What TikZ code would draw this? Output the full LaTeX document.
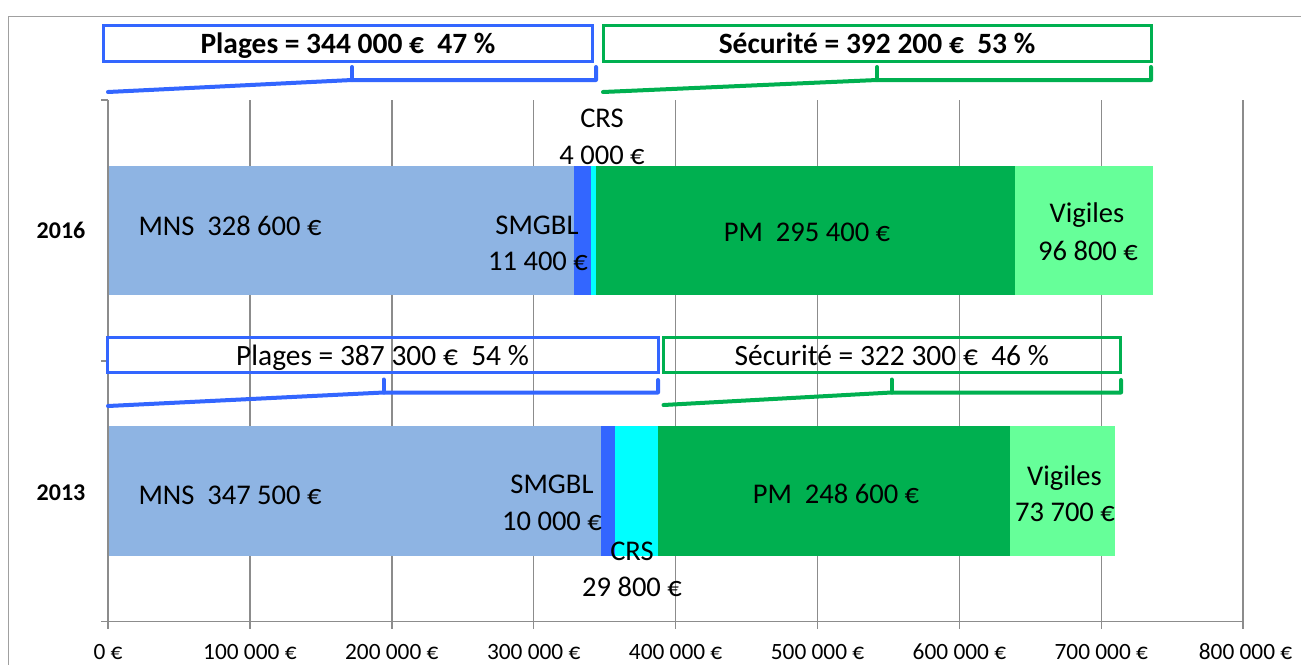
\documentclass[tikz,border=0pt]{standalone}
\usepackage{fontspec}
\setmainfont{Carlito}
\definecolor{cMNS}{HTML}{8EB4E3}
\definecolor{cSMG}{HTML}{3366FF}
\definecolor{cCRS}{HTML}{00FFFF}
\definecolor{cPM}{HTML}{00B050}
\definecolor{cVIG}{HTML}{66FF99}
\definecolor{cBlue}{HTML}{3366FF}
\definecolor{cGreen}{HTML}{00B050}
\definecolor{cGrid}{HTML}{8C8C8C}
\definecolor{cFrame}{HTML}{A0A0A0}
\tikzset{
  gridline/.style={draw=cGrid, line width=1.1pt},
  frameline/.style={draw=cFrame, line width=1.1pt},
  dl/.style={font=\fontsize{21.4}{27}\selectfont, inner sep=0pt, anchor=base},
  axl/.style={font=\fontsize{17.5}{21}\selectfont, inner sep=0pt, anchor=base, text depth=0pt},
  yr/.style={font=\fontsize{18}{22}\selectfont\bfseries, inner sep=0pt, anchor=base},
  cbox/.style={line width=2.25pt, inner sep=0pt, text height=16.2pt, text depth=0pt},
  cboxb/.style={cbox, font=\fontsize{22.1}{27}\selectfont\bfseries},
  cboxr/.style={cbox, font=\fontsize{22.1}{27}\selectfont},
  brk/.style={line width=3pt, line cap=round, line join=round}
}
\begin{document}
\begin{tikzpicture}[x=0.75pt,y=-0.75pt]
\useasboundingbox (0,0) rectangle (1301,664);
\clip (0,0) rectangle (1301,664);
\fill[white] (0,0) rectangle (1301,664);
% chart frame
\draw[frameline] (8.5,16.5) rectangle (1330,700);
% gridlines
\foreach \k in {1,...,8} \draw[gridline] ({108+141.9*\k},100) -- ({108+141.9*\k},629);
% bars 2016
\fill[cMNS] (108,166) rectangle (574.3,295);
\fill[cSMG] (574.3,166) rectangle (590.5,295);
\fill[cCRS] (590.5,166) rectangle (596.1,295);
\fill[cPM] (596.1,166) rectangle (1015.3,295);
\fill[cVIG] (1015.3,166) rectangle (1152.7,295);
% bars 2013
\fill[cMNS] (108,426) rectangle (601.1,555.5);
\fill[cSMG] (601.1,426) rectangle (615.3,555.5);
\fill[cCRS] (615.3,426) rectangle (657.6,555.5);
\fill[cPM] (657.6,426) rectangle (1010.3,555.5);
\fill[cVIG] (1010.3,426) rectangle (1114.9,555.5);
% axes
\draw[gridline] (108,100) -- (108,629);
\draw[gridline] (101,621.5) -- (1243.2,621.5);
\foreach \y in {100,361,621.5} \draw[gridline] (101,\y) -- (108,\y);
% axis labels
\node[axl] (ax0) at (108,659.5) {0 €};
\node[axl] (ax1) at (249.9,659.5) {100 000 €};
\node[axl] (ax2) at (391.8,659.5) {200 000 €};
\node[axl] (ax3) at (533.7,659.5) {300 000 €};
\node[axl] (ax4) at (675.6,659.5) {400 000 €};
\node[axl] (ax5) at (817.5,659.5) {500 000 €};
\node[axl] (ax6) at (959.4,659.5) {600 000 €};
\node[axl] (ax7) at (1101.3,659.5) {700 000 €};
\node[axl] (ax8) at (1245.5,659.5) {800 000 €};
% year labels
\node[yr] (y16) at (61,238) {2016};
\node[yr] (y13) at (61,500) {2013};
% data labels 2016
\node[dl] (mns16) at (230,235) {MNS\ \ 328 600 €};
\node[dl] (smg16a) at (537,234) {SMGBL};
\node[dl] (smg16b) at (538,270) {11 400 €};
\node[dl] (crs16a) at (602,127.5) {CRS};
\node[dl] (crs16b) at (602,164) {4 000 €};
\node[dl] (pm16) at (807,241) {PM\ \ 295 400 €};
\node[dl] (vig16a) at (1087,222.5) {Vigiles};
\node[dl] (vig16b) at (1088,260) {96 800 €};
% data labels 2013
\node[dl] (mns13) at (230,504) {MNS\ \ 347 500 €};
\node[dl] (smg13a) at (552,493.3) {SMGBL};
\node[dl] (smg13b) at (552,530.7) {10 000 €};
\node[dl] (crs13a) at (632,560) {CRS};
\node[dl] (crs13b) at (632,596.7) {29 800 €};
\node[dl] (pm13) at (836,503) {PM\ \ 248 600 €};
\node[dl] (vig13a) at (1064.5,485) {Vigiles};
\node[dl] (vig13b) at (1065,521.7) {73 700 €};
% callout boxes
\node[cboxb, draw=cBlue, minimum width=366.75pt, minimum height=27pt] (box16p) at (348,43) {Plages = 344 000 €\ \ 47 \%};
\node[cboxb, draw=cGreen, minimum width=411pt, minimum height=27pt] (box16s) at (877,43) {Sécurité = 392 200 €\ \ 53 \%};
\node[cboxr, draw=cBlue, minimum width=413.25pt, minimum height=26.25pt] (box13p) at (382.5,354.5) {Plages = 387 300 €\ \ 54 \%};
\node[cboxr, draw=cGreen, minimum width=342.4pt, minimum height=26.25pt] (box13s) at (891.75,354.5) {Sécurité = 322 300 €\ \ 46 \%};
% bracket points
\coordinate (b16pa) at (108,92);
\coordinate (b16pm) at (352,80);
\coordinate (b16pmt) at (352,67);
\coordinate (b16pr) at (596,80);
\coordinate (b16prt) at (596,67);
\coordinate (b16sa) at (603,92);
\coordinate (b16sm) at (877,80);
\coordinate (b16smt) at (877,67);
\coordinate (b16sr) at (1151,80);
\coordinate (b16srt) at (1151,67);
\coordinate (b13pa) at (108,406);
\coordinate (b13pm) at (383.5,392.5);
\coordinate (b13pmt) at (383.5,379.5);
\coordinate (b13pr) at (658,392.5);
\coordinate (b13prt) at (658,380);
\coordinate (b13sa) at (663.5,405);
\coordinate (b13sm) at (891.5,392.5);
\coordinate (b13smt) at (891.5,379.5);
\coordinate (b13sr) at (1121,392.5);
\coordinate (b13srt) at (1121,380);
% brackets
\draw[brk, cBlue] (b16pa) -- (b16pm) -- (b16pr) -- (b16prt);
\draw[brk, cBlue] (b16pmt) -- (b16pm);
\draw[brk, cGreen] (b16sa) -- (b16sm) -- (b16sr) -- (b16srt);
\draw[brk, cGreen] (b16smt) -- (b16sm);
\draw[brk, cBlue] (b13pa) -- (b13pm) -- (b13pr) -- (b13prt);
\draw[brk, cBlue] (b13pmt) -- (b13pm);
\draw[brk, cGreen] (b13sa) -- (b13sm) -- (b13sr) -- (b13srt);
\draw[brk, cGreen] (b13smt) -- (b13sm);
\end{tikzpicture}
\end{document}
